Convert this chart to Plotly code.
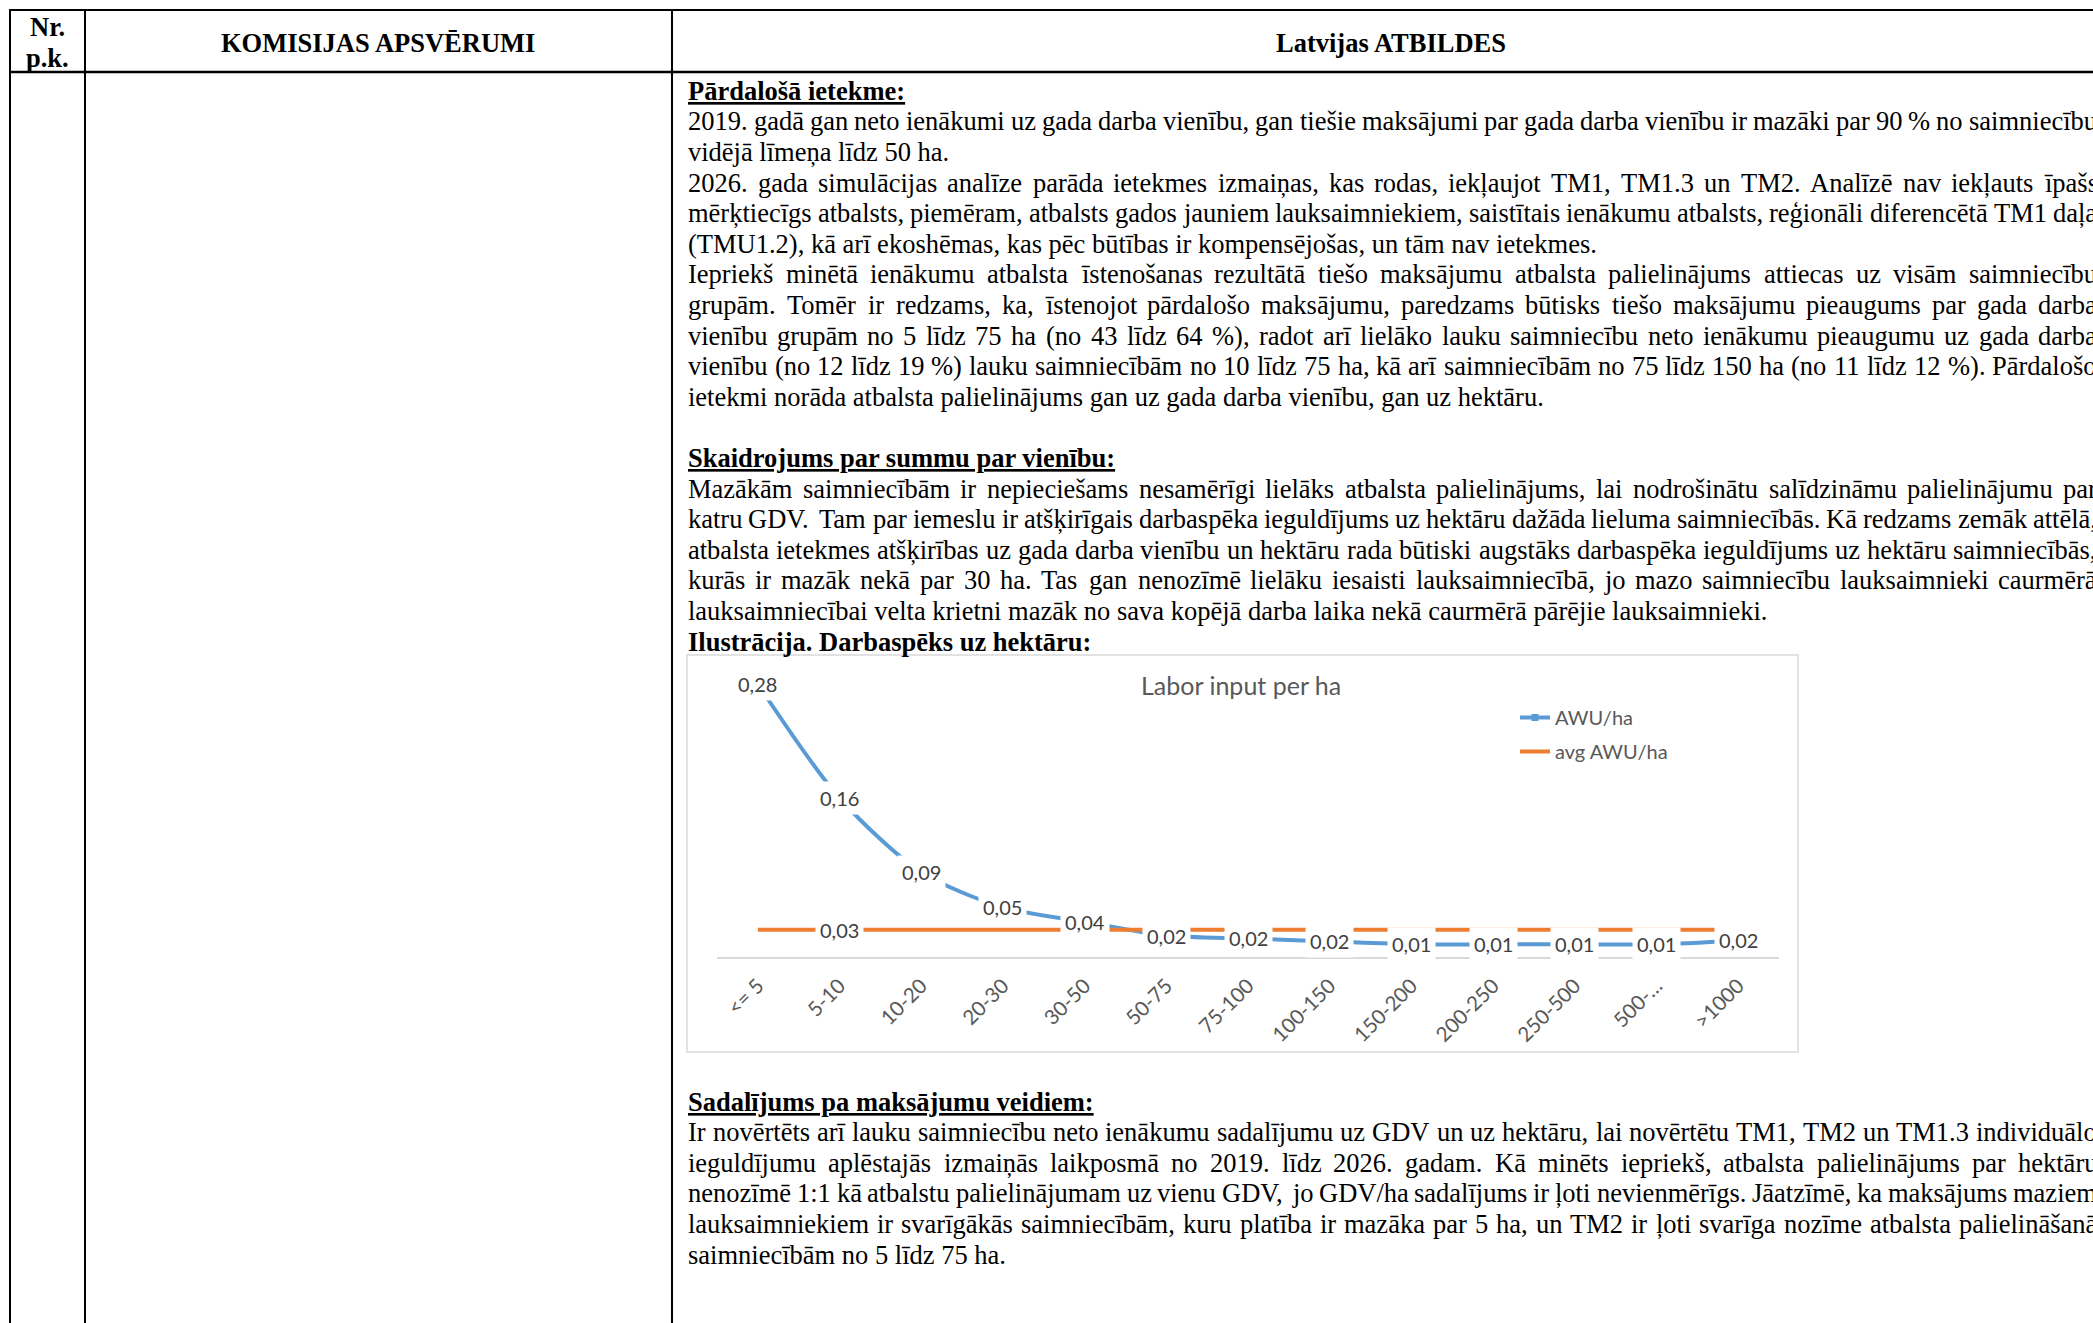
import unicodedata
import plotly.graph_objects as go

W, H = 2093, 1323

# ---------------- chart data ----------------
categories = ["<= 5", "5-10", "10-20", "20-30", "30-50", "50-75", "75-100",
              "100-150", "150-200", "200-250", "250-500", "500-…", ">1000"]
awu_per_ha = [0.280, 0.163, 0.087, 0.051, 0.036, 0.022, 0.019,
              0.016, 0.013, 0.013, 0.013, 0.013, 0.017]
avg_awu_per_ha = [0.028, 0.028, 0.028, 0.028, 0.028, 0.028, 0.028,
                  0.028, 0.028, 0.028, 0.028, 0.028, 0.028]
avg_label_index = [1]
chart_title = "Labor input per ha"
series_names = ["AWU/ha", "avg AWU/ha"]

# ---------------- document text ----------------
header_nr = ["Nr.", "p.k."]
header_col2 = "KOMISIJAS APSVĒRUMI"
header_col3 = "Latvijas ATBILDES"

heading1 = "Pārdalošā ietekme:"
para1 = ["2019. gadā gan neto ienākumi uz gada darba vienību, gan tiešie maksājumi par gada darba vienību ir mazāki par 90 % no saimniecību",
         "vidējā līmeņa līdz 50 ha."]
para2 = ["2026. gada simulācijas analīze parāda ietekmes izmaiņas, kas rodas, iekļaujot TM1, TM1.3 un TM2. Analīzē nav iekļauts īpašs",
         "mērķtiecīgs atbalsts, piemēram, atbalsts gados jauniem lauksaimniekiem, saistītais ienākumu atbalsts, reģionāli diferencētā TM1 daļa",
         "(TMU1.2), kā arī ekoshēmas, kas pēc būtības ir kompensējošas, un tām nav ietekmes."]
para3 = ["Iepriekš minētā ienākumu atbalsta īstenošanas rezultātā tiešo maksājumu atbalsta palielinājums attiecas uz visām saimniecību",
         "grupām. Tomēr ir redzams, ka, īstenojot pārdalošo maksājumu, paredzams būtisks tiešo maksājumu pieaugums par gada darba",
         "vienību grupām no 5 līdz 75 ha (no 43 līdz 64 %), radot arī lielāko lauku saimniecību neto ienākumu pieaugumu uz gada darba",
         "vienību (no 12 līdz 19 %) lauku saimniecībām no 10 līdz 75 ha, kā arī saimniecībām no 75 līdz 150 ha (no 11 līdz 12 %). Pārdalošo",
         "ietekmi norāda atbalsta palielinājums gan uz gada darba vienību, gan uz hektāru."]
heading2 = "Skaidrojums par summu par vienību:"
para4 = ["Mazākām saimniecībām ir nepieciešams nesamērīgi lielāks atbalsta palielinājums, lai nodrošinātu salīdzināmu palielinājumu par",
         "katru GDV. Tam par iemeslu ir atšķirīgais darbaspēka ieguldījums uz hektāru dažāda lieluma saimniecībās. Kā redzams zemāk attēlā,",
         "atbalsta ietekmes atšķirības uz gada darba vienību un hektāru rada būtiski augstāks darbaspēka ieguldījums uz hektāru saimniecībās,",
         "kurās ir mazāk nekā par 30 ha. Tas gan nenozīmē lielāku iesaisti lauksaimniecībā, jo mazo saimniecību lauksaimnieki caurmērā",
         "lauksaimniecībai velta krietni mazāk no sava kopējā darba laika nekā caurmērā pārējie lauksaimnieki."]
heading_ill = "Ilustrācija. Darbaspēks uz hektāru:"
heading3 = "Sadalījums pa maksājumu veidiem:"
para5 = ["Ir novērtēts arī lauku saimniecību neto ienākumu sadalījumu uz GDV un uz hektāru, lai novērtētu TM1, TM2 un TM1.3 individuālo",
         "ieguldījumu aplēstajās izmaiņās laikposmā no 2019. līdz 2026. gadam. Kā minēts iepriekš, atbalsta palielinājums par hektāru",
         "nenozīmē 1:1 kā atbalstu palielinājumam uz vienu GDV, jo GDV/ha sadalījums ir ļoti nevienmērīgs. Jāatzīmē, ka maksājums maziem",
         "lauksaimniekiem ir svarīgākās saimniecībām, kuru platība ir mazāka par 5 ha, un TM2 ir ļoti svarīga nozīme atbalsta palielināšanā",
         "saimniecībām no 5 līdz 75 ha."]

# ---------------- helpers ----------------
TIMES_W = {' ': 250, '!': 333, '"': 408, '#': 500, '$': 500, '%': 833, '&': 778, "'": 180,
           '(': 333, ')': 333, '*': 500, '+': 564, ',': 250, '-': 333, '.': 250, '/': 278,
           ':': 278, ';': 278, '<': 564, '=': 564, '>': 564, '?': 444, '@': 921,
           'A': 722, 'B': 667, 'C': 667, 'D': 722, 'E': 611, 'F': 556, 'G': 722, 'H': 722,
           'I': 333, 'J': 389, 'K': 722, 'L': 611, 'M': 889, 'N': 722, 'O': 722, 'P': 556,
           'Q': 722, 'R': 667, 'S': 556, 'T': 611, 'U': 722, 'V': 722, 'W': 944, 'X': 722,
           'Y': 722, 'Z': 611, 'a': 444, 'b': 500, 'c': 444, 'd': 500, 'e': 444, 'f': 333,
           'g': 500, 'h': 500, 'i': 278, 'j': 278, 'k': 500, 'l': 278, 'm': 778, 'n': 500,
           'o': 500, 'p': 500, 'q': 500, 'r': 333, 's': 389, 't': 278, 'u': 500, 'v': 500,
           'w': 722, 'x': 500, 'y': 500, 'z': 444}
for d in "0123456789":
    TIMES_W[d] = 500


def tw(s, size):
    tot = 0
    for ch in s:
        base = unicodedata.normalize("NFD", ch)[0]
        tot += TIMES_W.get(base, 500)
    return tot * size / 1000.0


def px(x):
    return x / W


def py(y):
    return 1 - y / H


BODY = dict(family="Liberation Serif", size=26.5, color="black")
LEFT, RIGHT = 687, 2096
LH = 30.6

annotations = []
shapes = []


def add_text(text, xpx, ypx, anchor="left", font=BODY):
    annotations.append(dict(x=px(xpx), y=py(ypx), xref="paper", yref="paper",
                            xanchor=anchor, yanchor="middle", text=text,
                            showarrow=False, font=font, borderpad=0))


def add_justified(line, ypx):
    words = line.split(" ")
    widths = [tw(w, BODY["size"]) for w in words]
    gap = (RIGHT - LEFT - sum(widths)) / (len(words) - 1)
    gap = max(gap, 0.18 * BODY["size"])
    x = LEFT
    for w, wd in zip(words, widths):
        add_text(w, x, ypx)
        x += wd + gap


def add_paragraph(lines, y0):
    for i, line in enumerate(lines):
        y = y0 + i * LH
        if i < len(lines) - 1:
            add_justified(line, y)
        else:
            add_text(line, LEFT, y)
    return y0 + len(lines) * LH


def ul(t):
    return '<b><span style="text-decoration:underline">' + t + '</span></b>'


# header
add_text("<b>" + header_nr[0] + "</b>", 47, 27, "center")
add_text("<b>" + header_nr[1] + "</b>", 47, 58, "center")
add_text("<b>" + header_col2 + "</b>", 378, 43, "center")
add_text("<b>" + header_col3 + "</b>", 1391, 43, "center")

# body text
y = 90.8
add_text(ul(heading1), LEFT, y)
y += LH
y = add_paragraph(para1, y)
y = add_paragraph(para2, y)
y = add_paragraph(para3, y)
y += LH
add_text(ul(heading2), LEFT, y)
y += LH
y = add_paragraph(para4, y)
add_text("<b>" + heading_ill + "</b>", LEFT, y)

y = 1101.5
add_text(ul(heading3), LEFT, y)
y += LH
add_paragraph(para5, y)

# table lines
LINEC = "black"
shapes.append(dict(type="line", xref="paper", yref="paper", x0=px(9), x1=px(2100), y0=py(10), y1=py(10),
                   line=dict(color=LINEC, width=2.2)))
shapes.append(dict(type="line", xref="paper", yref="paper", x0=px(9), x1=px(2100), y0=py(72), y1=py(72),
                   line=dict(color=LINEC, width=2.6)))
for xv in (10, 85, 672):
    shapes.append(dict(type="line", xref="paper", yref="paper", x0=px(xv), x1=px(xv), y0=py(9), y1=py(1330),
                       line=dict(color=LINEC, width=2)))

# chart frame
shapes.append(dict(type="rect", xref="paper", yref="paper", x0=px(687), x1=px(1798), y0=py(655), y1=py(1052),
                   line=dict(color="#D9D9D9", width=1.5), fillcolor="rgba(0,0,0,0)", layer="below"))

# chart title
annotations.append(dict(x=px(1241), y=py(685), xref="paper", yref="paper", xanchor="center", yanchor="middle",
                        text=chart_title, showarrow=False,
                        font=dict(family="Lato", size=25, color="#595959")))

# data labels
LBLFONT = dict(family="Lato", size=20, color="#404040")
for c, v in zip(categories, awu_per_ha):
    annotations.append(dict(x=c, y=v, xref="x", yref="y", text=f"{v:.2f}".replace(".", ","),
                            showarrow=False, bgcolor="white", borderpad=4, font=LBLFONT))
for i in avg_label_index:
    annotations.append(dict(x=categories[i], y=avg_awu_per_ha[i], xref="x", yref="y",
                            text=f"{avg_awu_per_ha[i]:.2f}".replace(".", ","),
                            showarrow=False, bgcolor="white", borderpad=4, font=LBLFONT))

fig = go.Figure()
fig.add_trace(go.Scatter(x=categories, y=awu_per_ha, name=series_names[0], mode="lines+markers",
                         line=dict(color="#5B9BD5", width=4, shape="spline", smoothing=0.8),
                         marker=dict(symbol="square", size=7, color="#5B9BD5"),
                         legendgroup="a"))
fig.add_trace(go.Scatter(x=categories, y=avg_awu_per_ha, name=series_names[1], mode="lines",
                         line=dict(color="#ED7D31", width=4), legendgroup="b"))

fig.update_layout(
    width=W, height=H, autosize=False,
    margin=dict(l=0, r=0, t=0, b=0),
    paper_bgcolor="white", plot_bgcolor="white",
    showlegend=True,
    legend=dict(x=px(1515), y=py(698), xanchor="left", yanchor="top",
                font=dict(family="Lato", size=20, color="#595959"),
                bgcolor="rgba(0,0,0,0)", tracegroupgap=5, itemwidth=30),
    xaxis=dict(domain=[px(717), px(1779)], type="category", categoryorder="array",
               categoryarray=categories, range=[-0.5, 12.5],
               showline=True, linecolor="#D9D9D9", linewidth=1.5, showgrid=False, zeroline=False,
               ticks="", tickangle=-45, ticklabelstandoff=7,
               tickfont=dict(family="Lato", size=20.5, color="#595959")),
    yaxis=dict(domain=[py(957), py(664.5)], range=[0, 0.3], visible=False),
    annotations=annotations,
    shapes=shapes,
)

fig.write_html("out.html", config={"displayModeBar": False},
               post_script="document.body.style.margin='0';document.body.style.overflow='hidden';")
